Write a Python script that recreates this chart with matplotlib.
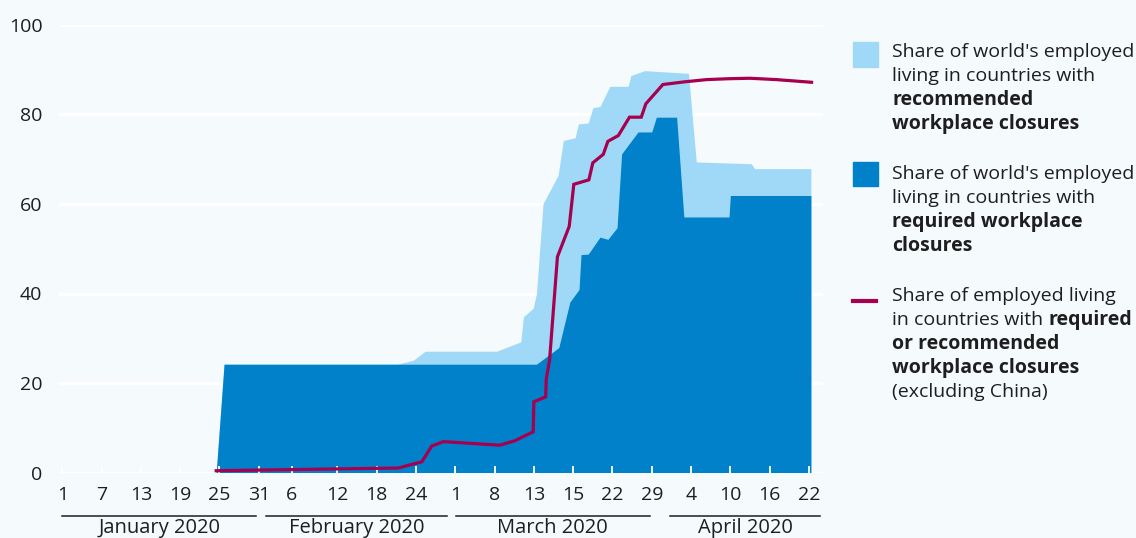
import matplotlib
matplotlib.use('Agg')
import matplotlib.pyplot as plt
import matplotlib.transforms as mtransforms

# --- colours ---
BG = '#F5FAFD'
LIGHT = '#A0D9F8'
DARK = '#0081CA'
LINE = '#A6004F'
TXT = '#1E1E1E'

# --- data (x = days since 1 Jan 2020 on the chart's own scale) ---
req_day = [23.5, 24.7, 72.4, 75.8, 77.5, 78.9, 79.2, 80.3, 82.1, 83.3, 84.7, 85.4,
           87.9, 90.0, 90.7, 93.8, 94.9, 101.8, 102.0, 114.3]
req_val = [0, 24.2, 24.2, 27.9, 38.1, 40.9, 48.7, 48.8, 52.6, 52.1, 54.7, 71.2,
           76.1, 76.1, 79.4, 79.4, 57.1, 57.1, 61.9, 61.9]

rec_day = [23.5, 24.7, 51.2, 53.6, 55.4, 66.3, 70.0, 70.4, 71.9, 72.4, 73.4, 75.7,
           76.5, 78.3, 78.8, 80.3, 81.0, 82.1, 83.6, 86.4, 86.8, 88.9, 95.6, 96.8,
           105.2, 105.7, 114.3]
rec_val = [0, 24.2, 24.2, 25.1, 27.1, 27.1, 29.2, 34.8, 36.7, 40.0, 60.1, 66.4,
           74.2, 74.8, 77.9, 78.1, 81.5, 81.8, 86.3, 86.3, 88.7, 89.8, 89.2, 69.4,
           69.0, 67.9, 67.9]

line_day = [23.5, 51.3, 54.9, 56.4, 58.2, 66.8, 69.1, 71.9, 72.0, 73.8, 73.9, 74.4,
            75.6, 77.4, 78.1, 80.4, 81.0, 82.6, 83.3, 84.9, 86.6, 88.4, 89.1, 91.7,
            95.0, 98.4, 101.8, 105.0, 109.0, 114.4]
line_val = [0.4, 1.0, 2.4, 5.9, 6.9, 6.1, 7.1, 9.1, 15.8, 16.9, 21.0, 25.1,
            48.2, 55.0, 64.4, 65.4, 69.2, 71.1, 74.0, 75.3, 79.4, 79.4, 82.4, 86.7,
            87.3, 87.8, 88.0, 88.1, 87.8, 87.2]

tick_pos = [0, 6, 12, 18, 24, 30, 35, 42, 48, 54, 60, 66, 72, 78, 84, 90, 96, 102, 108, 114]
tick_lab = ['1', '7', '13', '19', '25', '31', '6', '12', '18', '24',
            '1', '8', '13', '15', '22', '29', '4', '10', '16', '22']

months = ['January 2020', 'February 2020', 'March 2020', 'April 2020']
month_span = [(0.0, 29.6), (31.1, 58.7), (60.1, 89.7), (92.8, 115.7)]

plt.rcParams['font.family'] = ['Open Sans', 'DejaVu Sans']

W, H = 1136, 538
fig = plt.figure(figsize=(W / 100, H / 100), dpi=100)
fig.patch.set_facecolor(BG)
ax = fig.add_axes([59 / W, 1 - 472.5 / H, (822.7 - 59) / W, (472.5 - 25) / H])
ax.set_facecolor(BG)
ax.set_xlim(-0.5, 116.1)
ax.set_ylim(0, 100)
for s in ax.spines.values():
    s.set_visible(False)

# gridlines under the areas
for g in [0, 20, 40, 60, 80, 100]:
    ax.axhline(g, color='white', lw=2.2, zorder=0)

ax.fill_between(rec_day, 0, rec_val, color=LIGHT, lw=0, zorder=1)
ax.fill_between(req_day, 0, req_val, color=DARK, lw=0, zorder=2)
ax.plot(line_day, line_val, color=LINE, lw=2.3, zorder=4, solid_joinstyle='miter')

ax.set_yticks([0, 20, 40, 60, 80, 100])
ax.tick_params(axis='y', length=0, pad=12, labelsize=14, labelcolor=TXT)
ax.set_xticks(tick_pos)
ax.set_xticklabels(tick_lab)
ax.tick_params(axis='x', direction='in', length=5, width=1.3, color='white',
               pad=10, labelsize=14, labelcolor=TXT)
ax.set_axisbelow(False)
for t in ax.xaxis.get_major_ticks():
    t.tick1line.set_zorder(5)

# month underlines + labels
trans = mtransforms.blended_transform_factory(ax.transData, ax.transAxes)
for name, (a, b) in zip(months, month_span):
    ax.plot([a, b], [-0.097, -0.097], color=TXT, lw=1.1, transform=trans, clip_on=False)
    ax.text((a + b) / 2, -0.124, name, transform=trans, ha='center', va='center',
            fontsize=14.5, color=TXT)

# --- legend drawn by hand ---
fig.add_artist(plt.Rectangle((853 / W, 1 - 66.5 / H), 24.5 / W, 24.5 / H,
                             transform=fig.transFigure, color=LIGHT))
fig.add_artist(plt.Rectangle((853 / W, 1 - 186 / H), 24.5 / W, 24.5 / H,
                             transform=fig.transFigure, color=DARK))
fig.add_artist(plt.Line2D([853 / W, 875.5 / W], [1 - 301 / H, 1 - 301 / H],
                          transform=fig.transFigure, color=LINE, lw=3))

renderer = fig.canvas.get_renderer()
TX = 892
FS = 14


def rich_line(y_px, parts):
    x = TX
    for s, bold in parts:
        t = fig.text(x / W, 1 - y_px / H, s, fontsize=FS, color=TXT, va='center',
                     fontweight='bold' if bold else 'normal')
        x += t.get_window_extent(renderer).width + 5


rows = [
    (52, [("Share of world's employed", False)]),
    (76, [("living in countries with", False)]),
    (100, [("recommended", True)]),
    (124, [("workplace closures", True)]),
    (174, [("Share of world's employed", False)]),
    (198, [("living in countries with", False)]),
    (222, [("required workplace", True)]),
    (246, [("closures", True)]),
    (296, [("Share of employed living", False)]),
    (320, [("in countries with", False), ("required", True)]),
    (344, [("or recommended", True)]),
    (368, [("workplace closures", True)]),
    (392, [("(excluding China)", False)]),
]
for y, parts in rows:
    rich_line(y, parts)

fig.savefig('out.png', dpi=100, facecolor=BG)
